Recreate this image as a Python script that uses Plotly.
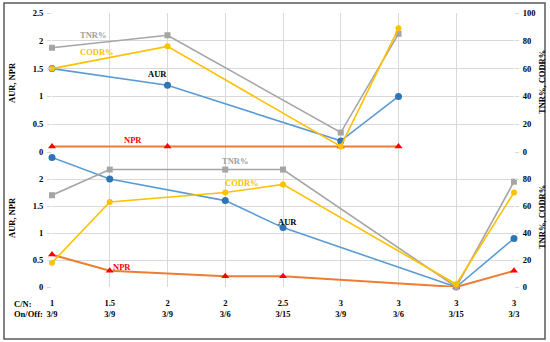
import plotly.graph_objects as go

# Category labels (9 positions)
cn_labels = ["1", "1.5", "2", "2", "2.5", "3", "3", "3", "3"]
onoff_labels = ["3/9", "3/9", "3/9", "3/6", "3/15", "3/9", "3/6", "3/15", "3/3"]

# Top panel
top_idx = [0, 2, 5, 6]
top_aur = [1.5, 1.2, 0.2, 1.0]
top_npr = [0.1, 0.1, 0.1, 0.1]
top_tnr = [75, 84, 14, 85]
top_codr = [60, 76, 4, 89]

# Bottom panel
bot_idx = [0, 1, 3, 4, 7, 8]
bot_aur = [2.4, 2.0, 1.6, 1.1, 0.0, 0.9]
bot_npr = [0.6, 0.3, 0.2, 0.2, 0.0, 0.3]
bot_tnr = [68, 87, 87, 87, 0, 78]
bot_codr = [18, 63, 70, 76, 2, 70]

FONT = "Liberation Serif"
GRID = "#D9D9D9"
BLUE_L, BLUE_M = "#5B9BD5", "#2E75B6"
GRAY = "#A5A5A5"
YEL = "#FFC000"
ORG, RED = "#ED7D31", "#FF0000"

fig = go.Figure()

def add_panel(idx, aur, npr, tnr, codr, xa, yl, yr):
    fig.add_trace(go.Scatter(x=idx, y=aur, xaxis=xa, yaxis=yl, mode="lines+markers",
                             line=dict(color=BLUE_L, width=1.6),
                             marker=dict(color=BLUE_M, size=7, symbol="circle"),
                             cliponaxis=False, showlegend=False))
    fig.add_trace(go.Scatter(x=idx, y=npr, xaxis=xa, yaxis=yl, mode="lines+markers",
                             line=dict(color=ORG, width=2),
                             marker=dict(color=RED, size=7, symbol="triangle-up"),
                             cliponaxis=False, showlegend=False))
    fig.add_trace(go.Scatter(x=idx, y=tnr, xaxis=xa, yaxis=yr, mode="lines+markers",
                             line=dict(color=GRAY, width=1.6),
                             marker=dict(color=GRAY, size=6, symbol="square"),
                             cliponaxis=False, showlegend=False))
    fig.add_trace(go.Scatter(x=idx, y=codr, xaxis=xa, yaxis=yr, mode="lines+markers",
                             line=dict(color=YEL, width=1.6),
                             marker=dict(color=YEL, size=6, symbol="circle"),
                             cliponaxis=False, showlegend=False))

add_panel(top_idx, top_aur, top_npr, top_tnr, top_codr, "x", "y", "y2")
add_panel(bot_idx, bot_aur, bot_npr, bot_tnr, bot_codr, "x2", "y3", "y4")

tickfont = dict(family=FONT, size=8.5, color="#000000")
positions = list(range(len(cn_labels)))
ticktext = [f"<b>{c}</b><br><b>{o}</b>" for c, o in zip(cn_labels, onoff_labels)]

SPLIT = 0.4927
xcommon = dict(range=[0, 8], tickvals=positions, showgrid=True, gridcolor=GRID,
               gridwidth=1, zeroline=False, showline=False, fixedrange=True,
               automargin=False)
ycommon_l = dict(range=[0, 2.5], showgrid=True, gridcolor=GRID, zeroline=False,
                 showline=False, ticks="outside", ticklen=4, tickcolor=GRID,
                 tickfont=tickfont, ticklabelstandoff=2, automargin=False)
ycommon_r = dict(range=[0, 100], showgrid=False, zeroline=False, showline=False,
                 ticks="outside", ticklen=4, tickcolor=GRID, tickfont=tickfont,
                 ticklabelstandoff=2, side="right", automargin=False)

fig.update_layout(
    template="none",
    width=550, height=342,
    margin=dict(l=52, r=36, t=13, b=55, pad=0),
    paper_bgcolor="white", plot_bgcolor="white",
    font=dict(family=FONT),
    xaxis=dict(**xcommon, anchor="y", showticklabels=False, domain=[0, 1], ticks=""),
    xaxis2=dict(**xcommon, anchor="y3", ticktext=ticktext, tickfont=tickfont,
                ticks="", ticklabelstandoff=9, domain=[0, 1]),
    yaxis=dict(**ycommon_l, domain=[SPLIT, 1], anchor="x",
               tickvals=[0, 0.5, 1, 1.5, 2, 2.5], ticktext=["<b>0</b>", "<b>0.5</b>", "<b>1</b>", "<b>1.5</b>", "<b>2</b>", "<b>2.5</b>"]),
    yaxis2=dict(**ycommon_r, overlaying="y", anchor="x",
                tickvals=[0, 20, 40, 60, 80, 100], ticktext=["<b>0</b>", "<b>20</b>", "<b>40</b>", "<b>60</b>", "<b>80</b>", "<b>100</b>"]),
    yaxis3=dict(**ycommon_l, domain=[0, SPLIT], anchor="x2",
                tickvals=[0, 0.5, 1, 1.5, 2], ticktext=["<b>0</b>", "<b>0.5</b>", "<b>1</b>", "<b>1.5</b>", "<b>2</b>"]),
    yaxis4=dict(**ycommon_r, overlaying="y3", anchor="x2",
                tickvals=[0, 20, 40, 60, 80], ticktext=["<b>0</b>", "<b>20</b>", "<b>40</b>", "<b>60</b>", "<b>80</b>"]),
)

lab = dict(family=FONT, size=8.5)
ann = []
def text(x, y, s, color, xref, yref, **kw):
    kw.setdefault("xanchor", "center")
    kw.setdefault("yanchor", "middle")
    ann.append(dict(x=x, y=y, xref=xref, yref=yref, text=f"<b>{s}</b>", showarrow=False,
                    font=dict(**lab, color=color), **kw))

# series labels, top panel
text(0.71, 2.10, "TNR%", "#A0A0A0", "x", "y")
text(0.78, 1.80, "CODR%", YEL, "x", "y")
text(1.82, 1.40, "AUR", "#000000", "x", "y")
text(1.40, 0.22, "NPR", RED, "x", "y")
# series labels, bottom panel
text(3.17, 2.33, "TNR%", "#A0A0A0", "x2", "y3")
text(3.29, 1.93, "CODR%", YEL, "x2", "y3")
text(4.07, 1.21, "AUR", "#000000", "x2", "y3")
text(1.21, 0.37, "NPR", RED, "x2", "y3")

# axis titles
for yc in [(287 - 82) / 274, (287 - 217) / 274]:
    text(-0.0866, yc, "AUR, NPR", "#000000", "paper", "paper", textangle=-90)
    text(1.0606, yc, "TNR%, CODR%", "#000000", "paper", "paper", textangle=-90)

# row headers
text(-0.0866, (287 - 304) / 274, "C/N:", "#000000", "paper", "paper", xanchor="left")
text(-0.0866, (287 - 314) / 274, "On/Off:", "#000000", "paper", "paper", xanchor="left")

fig.update_layout(annotations=ann)

# outer frame
fig.add_shape(type="rect", xref="paper", yref="paper",
              x0=(4 - 52) / 462, x1=(545 - 52) / 462,
              y0=(287 - 339) / 274, y1=(287 - 3) / 274,
              line=dict(color="#595959", width=1.5), fillcolor="rgba(0,0,0,0)")

fig.write_html("out.html", config={"displayModeBar": False},
               post_script="document.body.style.margin='0px';")
